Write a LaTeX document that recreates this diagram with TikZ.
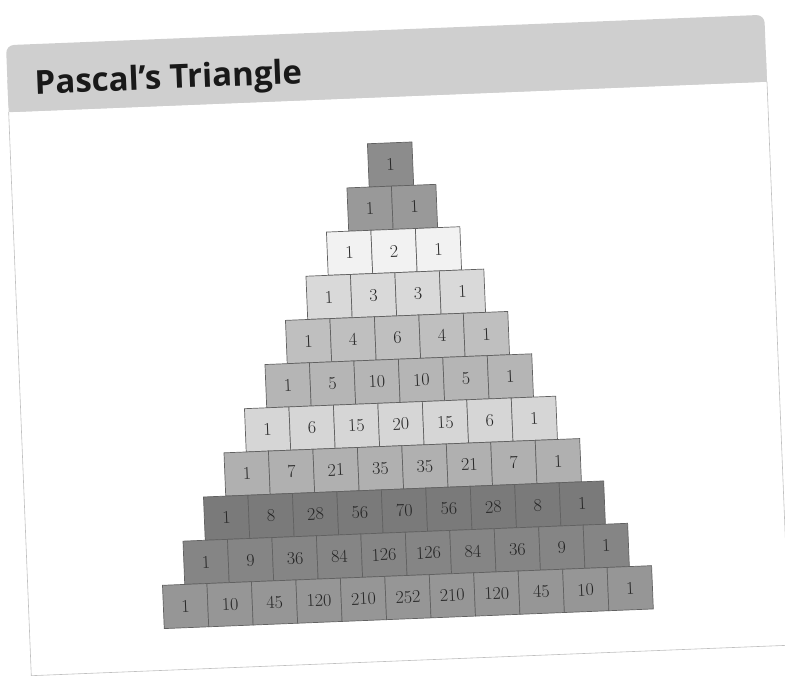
\documentclass[tikz,border=0pt]{standalone}
\usepackage{fontspec}
\newfontfamily\headfont{Open Sans}
\usetikzlibrary{positioning}
\tikzset{
    cell/.style={rectangle, draw=black!62, line width=0.7pt, minimum width=44.5pt, minimum height=43.3pt, inner sep=0pt, font=\fontsize{18}{20}\selectfont, text=black!85},
    shadeA/.style={cell, fill=black!45},
    shadeB/.style={cell, fill=black!40},
    shadeC/.style={cell, fill=black!5},
    shadeD/.style={cell, fill=black!15},
    shadeE/.style={cell, fill=black!25},
    shadeF/.style={cell, fill=black!29},
    shadeG/.style={cell, fill=black!16},
    shadeH/.style={cell, fill=black!31},
    shadeI/.style={cell, fill=black!52},
    shadeJ/.style={cell, fill=black!48},
    shadeK/.style={cell, fill=black!41},
    panel/.style={draw=black!25, line width=0.6pt},
    band/.style={fill=black!19},
    title/.style={font=\headfont\bfseries\fontsize{33}{36}\selectfont, text=black!90, inner sep=0pt, anchor=base west}
}

\begin{document}
\begin{tikzpicture}[x=44.5pt, y=43.3pt]
\useasboundingbox (-8.933,3.801) rectangle (8.708,-11.811);
\begin{scope}[rotate around={2.3:(-0.124,-4.005)}, transform shape]
% Frame and heading band
\draw[panel] (-8.528,1.561) -- (-8.528,-11.464) -- (8.528,-11.464) -- (8.528,1.561);
\fill[band, rounded corners=8pt] (-8.528,1.561) rectangle (8.528,3.109);
\fill[band] (-8.528,1.561) rectangle (8.528,2.3);
\node[title] (head) at (-7.921,1.954) {Pascal’s Triangle};

% Row 0
\node[shadeA] (n0-0) at (0,0) {1};

% Row 1
\node[shadeB] (n1-0) at (-0.5,-1) {1};
\node[shadeB] (n1-1) at (0.5,-1) {1};

% Row 2
\node[shadeC] (n2-0) at (-1,-2) {1};
\node[shadeC] (n2-1) at (0,-2) {2};
\node[shadeC] (n2-2) at (1,-2) {1};

% Row 3
\node[shadeD] (n3-0) at (-1.5,-3) {1};
\node[shadeD] (n3-1) at (-0.5,-3) {3};
\node[shadeD] (n3-2) at (0.5,-3) {3};
\node[shadeD] (n3-3) at (1.5,-3) {1};

% Row 4
\node[shadeE] (n4-0) at (-2,-4) {1};
\node[shadeE] (n4-1) at (-1,-4) {4};
\node[shadeE] (n4-2) at (0,-4) {6};
\node[shadeE] (n4-3) at (1,-4) {4};
\node[shadeE] (n4-4) at (2,-4) {1};

% Row 5
\node[shadeF] (n5-0) at (-2.5,-5) {1};
\node[shadeF] (n5-1) at (-1.5,-5) {5};
\node[shadeF] (n5-2) at (-0.5,-5) {10};
\node[shadeF] (n5-3) at (0.5,-5) {10};
\node[shadeF] (n5-4) at (1.5,-5) {5};
\node[shadeF] (n5-5) at (2.5,-5) {1};

% Row 6
\node[shadeG] (n6-0) at (-3,-6) {1};
\node[shadeG] (n6-1) at (-2,-6) {6};
\node[shadeG] (n6-2) at (-1,-6) {15};
\node[shadeG] (n6-3) at (0,-6) {20};
\node[shadeG] (n6-4) at (1,-6) {15};
\node[shadeG] (n6-5) at (2,-6) {6};
\node[shadeG] (n6-6) at (3,-6) {1};

% Row 7
\node[shadeH] (n7-0) at (-3.5,-7) {1};
\node[shadeH] (n7-1) at (-2.5,-7) {7};
\node[shadeH] (n7-2) at (-1.5,-7) {21};
\node[shadeH] (n7-3) at (-0.5,-7) {35};
\node[shadeH] (n7-4) at (0.5,-7) {35};
\node[shadeH] (n7-5) at (1.5,-7) {21};
\node[shadeH] (n7-6) at (2.5,-7) {7};
\node[shadeH] (n7-7) at (3.5,-7) {1};

% Row 8
\node[shadeI] (n8-0) at (-4,-8) {1};
\node[shadeI] (n8-1) at (-3,-8) {8};
\node[shadeI] (n8-2) at (-2,-8) {28};
\node[shadeI] (n8-3) at (-1,-8) {56};
\node[shadeI] (n8-4) at (0,-8) {70};
\node[shadeI] (n8-5) at (1,-8) {56};
\node[shadeI] (n8-6) at (2,-8) {28};
\node[shadeI] (n8-7) at (3,-8) {8};
\node[shadeI] (n8-8) at (4,-8) {1};

% Row 9
\node[shadeJ] (n9-0) at (-4.5,-9) {1};
\node[shadeJ] (n9-1) at (-3.5,-9) {9};
\node[shadeJ] (n9-2) at (-2.5,-9) {36};
\node[shadeJ] (n9-3) at (-1.5,-9) {84};
\node[shadeJ] (n9-4) at (-0.5,-9) {126};
\node[shadeJ] (n9-5) at (0.5,-9) {126};
\node[shadeJ] (n9-6) at (1.5,-9) {84};
\node[shadeJ] (n9-7) at (2.5,-9) {36};
\node[shadeJ] (n9-8) at (3.5,-9) {9};
\node[shadeJ] (n9-9) at (4.5,-9) {1};

% Row 10
\node[shadeK] (n10-0) at (-5,-10) {1};
\node[shadeK] (n10-1) at (-4,-10) {10};
\node[shadeK] (n10-2) at (-3,-10) {45};
\node[shadeK] (n10-3) at (-2,-10) {120};
\node[shadeK] (n10-4) at (-1,-10) {210};
\node[shadeK] (n10-5) at (0,-10) {252};
\node[shadeK] (n10-6) at (1,-10) {210};
\node[shadeK] (n10-7) at (2,-10) {120};
\node[shadeK] (n10-8) at (3,-10) {45};
\node[shadeK] (n10-9) at (4,-10) {10};
\node[shadeK] (n10-10) at (5,-10) {1};
\end{scope}
\end{tikzpicture}
\end{document}
